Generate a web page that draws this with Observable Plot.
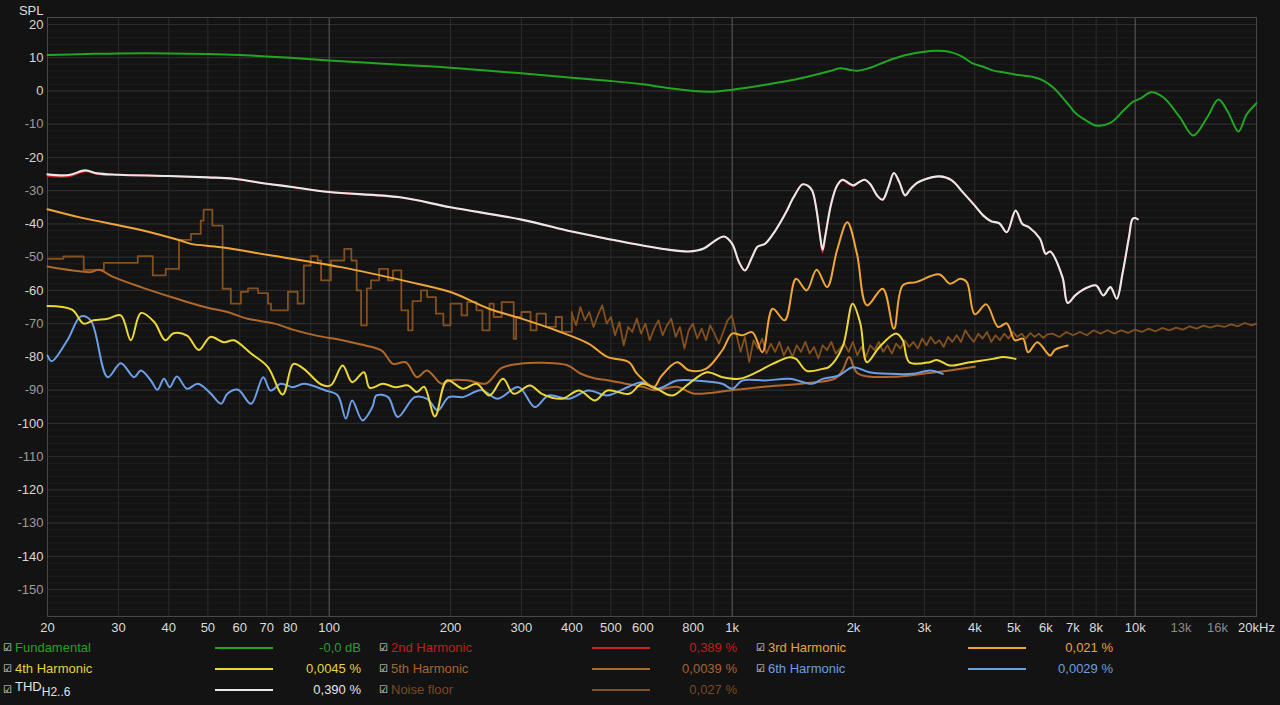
<!DOCTYPE html>
<html><head><meta charset="utf-8">
<script src="https://cdn.jsdelivr.net/npm/d3@7"></script>
<script src="https://cdn.jsdelivr.net/npm/@observablehq/plot@0.6"></script>
<style>
html,body{margin:0;padding:0;background:#131313;width:1280px;height:705px;overflow:hidden;font-family:"Liberation Sans",Arial,sans-serif;}
#chart{position:absolute;left:0;top:0;}
.leg{position:absolute;font-size:13px;white-space:nowrap;line-height:16px;}
.cb{position:absolute;font-family:"DejaVu Sans";font-size:10px;line-height:16px;color:#e0e0e0;}
.sw{position:absolute;height:2px;width:58px;}
.val{position:absolute;font-size:13px;line-height:16px;text-align:right;width:120px;white-space:nowrap;}
sub{font-size:12px;vertical-align:-5px;line-height:0;}
</style></head>
<body>
<div id="chart"></div>
<div id="legend"></div>
<script>
// ---------- data ----------
const fundF = [20,25,30,40,50,60,70,80,100,150,200,300,400,500,600,700,800,900,1000,1200,1400,1600,1750,1850,1950,2050,2200,2400,2700,3000,3200,3350,3500,3700,3950,4200,4430,4700,5060,5580,5900,6250,6800,7130,7560,8000,8700,9350,9890,10300,10960,11740,12900,13940,15100,16090,17000,18040,18900,20000];
const fundDb = [10.8,11.1,11.3,11.3,11.1,10.8,10.4,10.0,9.2,7.9,7.0,5.3,4.0,3.0,2.0,0.8,0.0,-0.2,0.4,1.8,3.2,4.8,6.0,6.8,6.4,6.1,7.0,8.8,10.8,11.8,12.1,12.0,11.6,10.5,8.3,7.3,6.2,5.6,4.9,4.2,3.2,1.1,-3.8,-6.8,-8.9,-10.4,-9.5,-5.9,-3.2,-2.3,-0.4,-1.9,-7.9,-13.4,-7.9,-2.6,-6.4,-12.2,-7.1,-3.7];

const thdF = [20,22.6,24.8,26.6,30,40,50,58,70,80,100,150,200,300,400,500,600,700,780,850,900,955,1000,1040,1075,1120,1157,1206,1280,1355,1420,1494,1540,1580,1620,1650,1676,1700,1760,1820,1879,1940,2000,2060,2130,2200,2290,2363,2440,2520,2600,2685,2770,2870,3000,3270,3500,3737,4000,4200,4390,4600,4800,5050,5250,5450,5800,6000,6150,6600,6800,7100,7560,8000,8336,8680,9000,9300,9650,9850,10000,10150];
const thdDb = [-25.1,-25.3,-23.9,-24.8,-25.2,-25.6,-26.0,-26.4,-27.9,-28.8,-30.4,-32.0,-35.0,-38.7,-42.3,-44.7,-46.5,-47.8,-48.3,-47.4,-45.3,-43.8,-46.0,-51.5,-54.0,-50.0,-46.8,-46.0,-42.0,-36.9,-32.0,-28.1,-28.5,-30.0,-36.0,-43.0,-47.8,-44.0,-34.0,-28.5,-26.7,-27.6,-28.4,-27.5,-26.7,-28.0,-31.5,-32.7,-29.0,-24.7,-27.5,-31.4,-29.5,-27.7,-26.6,-25.7,-26.8,-30.5,-34.5,-37.5,-39.2,-39.8,-42.5,-36.0,-40.0,-41.0,-44.4,-49.0,-48.3,-56.0,-63.8,-61.5,-59.3,-58.5,-61.5,-59.0,-62.5,-55.0,-44.0,-38.5,-38.2,-38.6];
const h2Db = [-25.6,-25.7,-24.2,-25.0,-25.2,-25.6,-26.0,-26.4,-27.9,-28.8,-30.4,-32.0,-35.0,-38.7,-42.3,-44.7,-46.5,-47.8,-48.3,-47.4,-45.3,-43.8,-46.0,-51.5,-54.0,-50.0,-46.8,-46.0,-42.0,-36.9,-32.0,-28.1,-28.5,-30.0,-36.0,-43.2,-48.6,-44.2,-34.0,-28.5,-26.9,-27.9,-28.6,-27.5,-26.7,-28.0,-31.5,-32.7,-29.0,-24.7,-27.5,-31.4,-29.5,-27.7,-26.6,-25.7,-26.8,-30.5,-34.5,-37.5,-39.2,-39.8,-42.5,-36.0,-40.0,-41.0,-44.4,-49.0,-48.3,-56.0,-63.8,-61.5,-59.3,-58.5,-61.5,-59.0,-62.5,-55.0,-44.0,-38.5,-38.2,-38.6];

const h3F = [20,24.2,34.1,42.8,45.4,53.9,72,107,155,200,249,300,365,440,490,555,580,640,665,730,780,860,945,1000,1059,1123,1188,1260,1350,1440,1530,1620,1720,1820,1930,2040,2160,2363,2520,2650,2860,3270,3470,3680,3820,4000,4270,4570,4800,5030,5270,5420,5720,6150,6320,6800];
const h3Db = [-35.6,-38.1,-41.8,-45,-46,-47,-49.5,-53,-57.2,-60.5,-65.5,-68.5,-72,-76,-80,-81.6,-85,-89,-86,-81.6,-84,-83.6,-78,-73,-73.5,-72.6,-78.6,-65.5,-69,-56.5,-60,-53.8,-59,-48,-39.5,-49,-64.5,-59.5,-71.5,-58.5,-57.5,-55.2,-58,-56.5,-57.5,-67.2,-64.2,-71,-69.9,-75,-74.5,-78.6,-75.6,-79.6,-77.9,-76.6];

const h4F = [20,23,24.6,26,28.2,30.4,32.2,34.1,36.8,39.2,41.1,44.4,47.5,50.7,54.8,58,64,70.4,76.7,81.5,86.5,95.5,100.8,108,114,122,126,136,146,157,165,172,183,196,215,232,250,270,287,315,337,378,417,457,490,555,597,650,710,780,865,945,1040,1150,1260,1390,1440,1530,1676,1740,1879,1990,2080,2160,2320,2550,2650,2750,3090,3220,3470,3890,4435,4700,5050];
const h4Db = [-64.7,-65.8,-70,-69,-68.5,-67.5,-75,-66.8,-69.5,-75,-72.9,-73.6,-77.9,-74,-75.6,-75,-79,-83,-91.3,-82.1,-83.6,-88.3,-88.6,-82.6,-87.6,-84.6,-89.3,-88.1,-89.1,-88.6,-90.6,-89,-97.9,-87.1,-89.6,-88.1,-91.6,-86.6,-91.1,-88.6,-91.1,-92.6,-90.1,-93.1,-90.1,-91.1,-88.1,-89.6,-91.6,-88.1,-84.6,-86.1,-86.6,-84.6,-82.1,-80.1,-80.6,-84.2,-83.6,-83,-77,-64,-70,-81.6,-77,-73,-75,-81.6,-81.6,-80.9,-82.6,-81.6,-80.6,-80,-80.6];

const h5F = [20,23.1,25.6,26.8,29.2,34.1,41.1,49.9,55.9,62.7,73.3,81.2,93,107,120,135,144,155,165,175,190,200,220,245,268,300,340,390,420,457,490,540,600,640,730,800,1000,1200,1500,1800,1880,1950,2050,2500,3000,3500,4000];
const h5Db = [-52.8,-54,-54.5,-53.8,-56,-59,-62.2,-65.2,-66.5,-68.5,-70,-71.8,-73.6,-74.9,-76.3,-78.1,-82.1,-81.6,-86.1,-84.1,-88.1,-87,-87,-88,-83.3,-82,-81.8,-82.5,-85,-86.5,-87,-88,-89,-90,-89,-91,-90,-89,-88,-86.5,-84,-80,-85,-86,-85,-84,-83];

const h6F = [20,20.5,22.4,24.2,25.6,28.2,30.4,32.8,34.1,36.1,37.5,38.9,40.2,41.9,44.4,47.2,50.7,53.9,55.9,59.4,64,68.6,71.5,75.9,81.2,86.5,98,105,110,114,121,128,131,140,148,163,175,186,198,215,239,262,295,324,350,393,440,490,555,597,650,730,810,945,1000,1059,1210,1390,1580,1676,1840,1990,2190,2460,2800,3100,3330];
const h6Db = [-79.6,-81.3,-75,-67.8,-69,-86.1,-81.9,-86.1,-84.1,-87.1,-89.9,-86.6,-89.1,-85.9,-89.6,-88.1,-90.9,-94.1,-91.1,-89.9,-94.1,-86.1,-90.1,-88.1,-89.1,-88.1,-90.1,-91.6,-98.6,-93.1,-99.1,-95.1,-91.6,-92.1,-98.1,-92.1,-92.6,-96.1,-92.1,-92.1,-90,-92.6,-89.1,-95.1,-91.6,-92.6,-90.1,-91.6,-88.9,-87.6,-89.6,-87.1,-87.1,-88.1,-89.6,-87.1,-87.1,-86.6,-88.1,-86.6,-85.6,-83.1,-84.6,-85.1,-85.1,-84.1,-85.1];

const noiseLowF = [20,21.9,24.6,27.6,33.5,36.5,39.3,42.4,45.4,48,48.8,51.3,54.4,57,60.4,62.9,66.6,70.5,71.7,79,83.5,86.5,90,93.6,95.5,101,109,113.5,117,120,124,127,133,140,144,151,157,161,169,175,184,192,200,213,220,232,240,250,256,268,287,291,300,316,327,345,365,378,400];
const noiseLowDb = [-50.5,-49.8,-53.8,-51.7,-49.7,-55.5,-53.5,-44.8,-43,-39,-35.7,-40.5,-59.5,-64,-60.4,-59.4,-60.8,-64,-66,-60.4,-64,-52.5,-49.7,-51,-57,-51,-47.5,-51,-60,-70.5,-59.4,-57,-53.5,-57,-54,-66,-72,-63.2,-60,-62,-67,-70.5,-64,-67.5,-63.5,-66,-72,-64,-68,-63.5,-74.6,-68,-66.5,-72,-67,-71,-68,-72.5,-66.5];
const noiseHighF = [400,410,420,431,442,453,464,476,488,500,512,525,538,552,565,580,594,609,624,640,656,672,689,706,724,742,761,780,799,819,840,861,882,904,927,950,974,998,1023,1049,1075,1102,1130,1158,1187,1216,1247,1278,1310,1343,1376,1411,1446,1482,1519,1557,1596,1636,1677,1719,1762,1806,1851,1897,1945,1993,2043,2094,2147,2200,2255,2312,2370,2429,2490,2552,2616,2681,2748,2817,2887,2960,3034,3110,3187,3267,3349,3432,3518,3606,3696,3789,3883,3980,4080,4182,4287,4394,4504,4616,4732,4850,4971,5096,5223,5354,5488,5625,5766,5910,6058,6235,6485,6744,7014,7294,7586,7890,8205,8534,8875,9230,9599,9983,10383,10798,11230,11679,12146,12632,13137,13663,14209,14778,15369,15984,16623,17288,17980,18699,19447,20000];
const noiseHighDb = [-67,-70.5,-65,-69,-66.5,-71,-67.5,-64.5,-70,-68,-73.5,-69.5,-76.5,-71,-72.5,-68.5,-73,-70,-75,-71.5,-69,-73.5,-70.5,-68.5,-74,-71,-77.5,-72,-70,-74.5,-71.5,-75,-70.5,-73,-76,-72.5,-69,-67.5,-73,-78.5,-74,-81.5,-75,-77.5,-74.5,-79,-76,-78.5,-75.5,-79.5,-77,-80,-76.5,-78.5,-75.5,-79,-77,-80.5,-76.5,-78,-75.5,-79,-77.5,-76,-78.5,-75.5,-79.5,-77,-80,-76.5,-78,-75.5,-78.5,-76.5,-79,-76,-77.5,-75,-77,-75.5,-77.5,-74.5,-76.5,-74,-76,-75,-77,-74,-75.5,-73.5,-75.5,-72,-74,-75.5,-73,-74.5,-72.5,-75.5,-73.5,-75,-73,-74.5,-72.5,-74,-73,-74.5,-72.8,-74,-73,-74.3,-73.2,-73,-74,-72.5,-73.5,-72.5,-73.5,-72,-73,-72,-73,-72,-72.8,-71.8,-72.5,-71.5,-72.3,-71.3,-72,-71.2,-71.8,-70.8,-71.5,-70.6,-71.2,-70.5,-71,-70.2,-70.8,-69.8,-70.5,-70];

// ticks & grid
const xTickValues = [20,30,40,50,60,70,80,100,200,300,400,500,600,800,1000,2000,3000,4000,5000,6000,7000,8000,10000,20000];
const xTickLabels = ["20","30","40","50","60","70","80","100","200","300","400","500","600","800","1k","2k","3k","4k","5k","6k","7k","8k","10k","20kHz"];
const xDimTickValues = [13000,16000];
const xDimTickLabels = ["13k","16k"];
const xGridMinor = [20,30,40,50,60,70,80,90,200,300,400,500,600,700,800,900,2000,3000,4000,5000,6000,7000,8000,9000,20000];
const xGridMajor = [100,1000,10000];
const yTicksBright = [20,10,0,-20,-40,-60,-80,-100,-120,-140];
const yTicksDim = [-10,-30,-50,-70,-90,-110,-130,-150];
const yGridMajor = [20,10,0,-10,-20,-30,-40,-50,-60,-70,-80,-90,-100,-110,-120,-130,-140,-150];
const yGridMinor = d3.range(-158, 22.1, 2);

// legend
const legendLabels = ["Fundamental","2nd Harmonic","3rd Harmonic","4th Harmonic","5th Harmonic","6th Harmonic","THD","Noise floor"];
const legendValues = ["-0,0 dB","0,389 %","0,021 %","0,0045 %","0,0039 %","0,0029 %","0,390 %","0,027 %"];
const legendColors = ["#27a027","#c41c1c","#eba23c","#e8d23c","#a8642c","#6c9ee6","#e2e2e2","#7a4a22"];
const lineColors  = ["#22a622","#cc1e1e","#f0a635","#ecd835","#b0682a","#6c9fe8","#e8e8e8","#83501f"];

const lw = 2;
const chart = Plot.plot({
  width: 1280, height: 640,
  marginLeft: 47, marginRight: 24, marginTop: 17, marginBottom: 24,
  style: {background: "#131313", color: "#dddddd", fontFamily: "Liberation Sans, Arial, sans-serif", fontSize: "13px"},
  x: {type: "log", domain: [20, 20000], axis: null},
  y: {domain: [-158.1, 22.1], axis: null},
  marks: [
    Plot.ruleY(yGridMinor, {stroke: "#1e1e1e", strokeWidth: 1}),
    Plot.ruleY(yGridMajor, {stroke: "#303030", strokeWidth: 1}),
    Plot.ruleX(xGridMinor, {stroke: "#2c2c2c", strokeWidth: 1}),
    Plot.ruleX(xGridMajor, {stroke: "#5e5e5e", strokeWidth: 1}),
    Plot.frame({stroke: "#474747"}),
    Plot.line(noiseLowDb, {x: noiseLowF, y: noiseLowDb, stroke: lineColors[7], strokeWidth: 1.8, curve: "step-after"}),
    Plot.line(noiseHighDb, {x: noiseHighF, y: noiseHighDb, stroke: lineColors[7], strokeWidth: 1.8}),
    Plot.line(h5Db, {x: h5F, y: h5Db, stroke: lineColors[4], strokeWidth: lw, curve: "catmull-rom"}),
    Plot.line(h6Db, {x: h6F, y: h6Db, stroke: lineColors[5], strokeWidth: lw, curve: "catmull-rom"}),
    Plot.line(h4Db, {x: h4F, y: h4Db, stroke: lineColors[3], strokeWidth: lw, curve: "catmull-rom"}),
    Plot.line(h3Db, {x: h3F, y: h3Db, stroke: lineColors[2], strokeWidth: lw, curve: "catmull-rom"}),
    Plot.line(h2Db, {x: thdF, y: h2Db, stroke: lineColors[1], strokeWidth: 1.8, curve: "catmull-rom"}),
    Plot.line(thdDb, {x: thdF, y: thdDb, stroke: lineColors[6], strokeWidth: 2.1, curve: "catmull-rom"}),
    Plot.line(fundDb, {x: fundF, y: fundDb, stroke: lineColors[0], strokeWidth: lw, curve: "catmull-rom"}),
    Plot.text(yTicksBright, {y: d => d, text: d => String(d), frameAnchor: "left", textAnchor: "end", dx: -4, fill: "#d8d8d8", fontSize: 13}),
    Plot.text(yTicksDim, {y: d => d, text: d => String(d), frameAnchor: "left", textAnchor: "end", dx: -4, fill: "#9c9c9c", fontSize: 13}),
    Plot.text(xTickValues, {x: d => d, text: (d, i) => xTickLabels[i], frameAnchor: "bottom", lineAnchor: "top", dy: 6, fill: "#dcdcdc", fontSize: 13}),
    Plot.text(xDimTickValues, {x: d => d, text: (d, i) => xDimTickLabels[i], frameAnchor: "bottom", lineAnchor: "top", dy: 6, fill: "#8a8a8a", fontSize: 13}),
    Plot.text(["SPL"], {frameAnchor: "top-left", dx: -4, dy: -12, textAnchor: "end", fill: "#dddddd", fontSize: 13})
  ]
});
document.getElementById("chart").appendChild(chart);

// legend (HTML, below the svg)
const leg = document.getElementById("legend");
const rowY = [648, 669, 690];
const colX = [15, 391, 768];
const swX = [215, 592, 968];
const valR = [361, 737, 1113];
const order = [[0,1,2],[3,4,5],[6,7]];
order.forEach((row, r) => {
  row.forEach((k, c) => {
    const cy = rowY[r];
    const cb = document.createElement("div");
    cb.className = "cb"; cb.textContent = "\u2611";
    cb.style.left = (colX[c] - 12) + "px"; cb.style.top = (cy - 8) + "px";
    leg.appendChild(cb);
    const lab = document.createElement("div");
    lab.className = "leg";
    lab.style.left = colX[c] + "px"; lab.style.top = (cy - 8) + "px";
    lab.style.color = legendColors[k];
    if (k === 6) { lab.innerHTML = "THD<sub>H2..6</sub>"; lab.style.top = (cy - 11) + "px"; }
    else lab.textContent = legendLabels[k];
    leg.appendChild(lab);
    const sw = document.createElement("div");
    sw.className = "sw";
    sw.style.left = swX[c] + "px"; sw.style.top = (cy - 1) + "px";
    sw.style.background = lineColors[k];
    leg.appendChild(sw);
    const v = document.createElement("div");
    v.className = "val";
    v.style.left = (valR[c] - 120) + "px"; v.style.top = (cy - 8) + "px";
    v.style.color = legendColors[k];
    v.textContent = legendValues[k];
    leg.appendChild(v);
  });
});
</script>
</body></html>
